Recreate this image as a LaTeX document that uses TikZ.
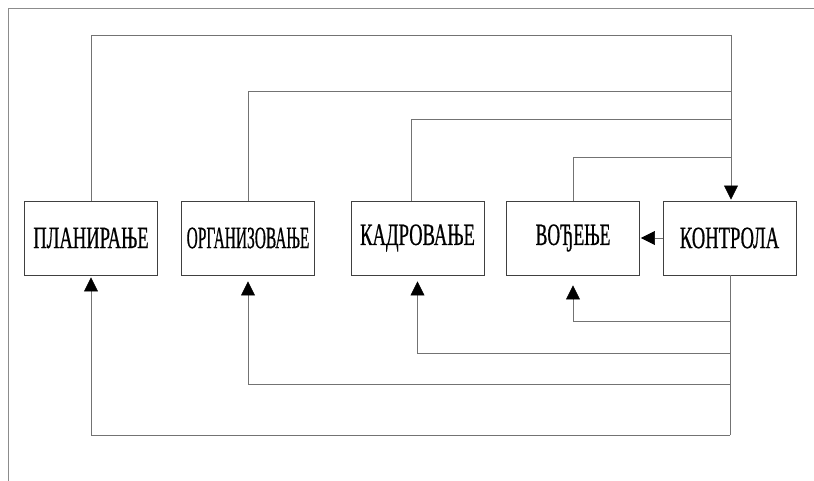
\documentclass[tikz,border=0pt]{standalone}
\usepackage{fontspec}
\setmainfont{Liberation Serif}
\newfontfamily\condfont[FakeStretch=0.6,FakeBold=0.6]{Liberation Serif}
\usetikzlibrary{arrows.meta}
\begin{document}
\begin{tikzpicture}[x=1pt,y=-1pt,
  stepbox/.style={draw=black!75, line width=0.9pt, minimum width=133pt, minimum height=74pt, inner sep=0pt,
    font=\condfont\fontsize{31}{31}\selectfont},
  conn/.style={draw=black!55, line width=0.7pt},
  arr/.style={conn, -{Triangle[width=14pt,length=14pt,fill=black,color=black]}, shorten >=1pt},
  frameline/.style={draw=black!45, line width=0.8pt}]
\useasboundingbox (0,0) rectangle (814,481);
\draw[frameline] (8,481) -- (8,8) -- (814,8);

\node[stepbox] (b1) at (91,238) {ПЛАНИРАЊЕ};
\node[stepbox] (b2) at (248,238) {\scalebox{0.83}[1]{ОРГАНИЗОВАЊЕ}};
\node[stepbox] (b3) at (417.5,238) {КАДРОВАЊЕ};
\node[stepbox] (b4) at (573,238) {\scalebox{0.95}[1]{ВОЂЕЊЕ}};
\node[stepbox] (b5) at (729.5,238) {КОНТРОЛА};

\coordinate (t1) at (731,35);
\coordinate (t2) at (731,91);
\coordinate (t3) at (731,119);
\coordinate (t4) at (731,157);
\coordinate (r4) at (730,321);
\coordinate (r3) at (730,353);
\coordinate (r2) at (730,384);
\coordinate (r1) at (730,435);

% upward feeds into control
\draw[conn] (b1.north) |- (t1);
\draw[conn] (b2.north) |- (t2);
\draw[conn] ([xshift=-6pt]b3.north) |- (t3);
\draw[conn] (b4.north) |- (t4);
\draw[arr] (t1) -- (t1 |- b5.north);

% control to leading
\draw[arr] (b5.west) -- (b4.east);

% feedback from control
\draw[conn] (b5.south -| r1) -- (r1);
\draw[arr, shorten >=10pt] (r4) -| (b4.south);
\draw[arr, shorten >=6pt] (r3) -| (b3.south);
\draw[arr, shorten >=6pt] (r2) -| (b2.south);
\draw[arr, shorten >=2pt] (r1) -| (b1.south);
\end{tikzpicture}
\end{document}
